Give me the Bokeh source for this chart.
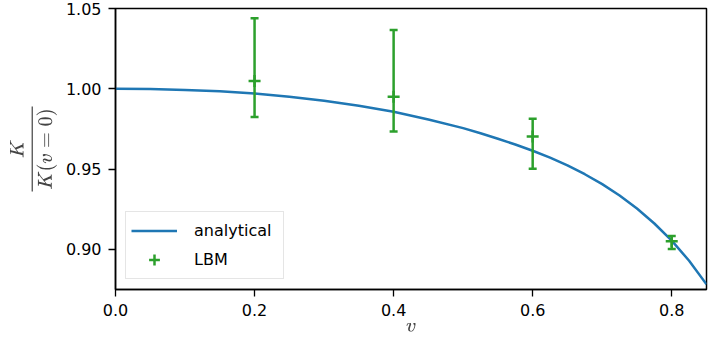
from bokeh.plotting import figure
from bokeh.models import FixedTicker, NumeralTickFormatter, Range1d, Legend, LegendItem, ColumnDataSource
from bokeh.embed import file_html
from bokeh.resources import INLINE

# analytical curve
v_curve = [0.0, 0.05, 0.1, 0.15, 0.2, 0.25, 0.3, 0.35, 0.4, 0.45, 0.5, 0.525, 0.55, 0.575, 0.6,
           0.625, 0.65, 0.675, 0.7, 0.725, 0.75, 0.775, 0.8, 0.825, 0.85]
k_curve = [1.0, 0.9998, 0.9993, 0.9984, 0.9971, 0.9951, 0.9925, 0.9894, 0.9857, 0.9809, 0.9755, 0.9723, 0.9689, 0.9653, 0.9614,
           0.9571, 0.9523, 0.9468, 0.9406, 0.9335, 0.9254, 0.9161, 0.9054, 0.8929, 0.8782]

# LBM points with asymmetric error bars
v_lbm = [0.2, 0.4, 0.6, 0.8]
k_lbm = [1.0048, 0.9950, 0.9703, 0.9050]
k_low = [0.9825, 0.9734, 0.9502, 0.9002]
k_high = [1.0440, 1.0366, 0.9814, 0.9083]

x_ticks = [0.0, 0.2, 0.4, 0.6, 0.8]
y_ticks = [0.90, 0.95, 1.00, 1.05]

BLUE = "#1f77b4"
GREEN = "#2ca02c"
FONT = "DejaVu Sans"

p = figure(width=708, height=347, output_backend="svg", toolbar_location=None,
           x_range=Range1d(0.0, 0.85), y_range=Range1d(0.875, 1.05),
           min_border_left=115, min_border_right=2, min_border_top=8, min_border_bottom=58)
p.grid.visible = False
p.outline_line_color = "black"
p.outline_line_width = 1.5

line_r = p.line(v_curve, k_curve, line_color=BLUE, line_width=2.5)

src = ColumnDataSource(dict(v=v_lbm, k=k_lbm, lo=k_low, hi=k_high))
p.segment(x0="v", y0="lo", x1="v", y1="hi", source=src, line_color=GREEN, line_width=2.5)
p.scatter(x="v", y="lo", source=src, marker="dash", size=8, line_color=GREEN, line_width=2.5)
p.scatter(x="v", y="hi", source=src, marker="dash", size=8, line_color=GREEN, line_width=2.5)
ctr_r = p.scatter(x="v", y="k", source=src, marker="cross", size=12, line_color=GREEN, line_width=2.5)

for ax in (p.xaxis, p.yaxis):
    ax.axis_line_width = 1.5
    ax.major_tick_line_width = 1.3
    ax.major_tick_out = 7
    ax.major_tick_in = 0
    ax.minor_tick_line_color = None
    ax.major_label_text_font = FONT
    ax.major_label_text_font_size = "16px"
    ax.major_label_text_color = "black"

p.xaxis.ticker = FixedTicker(ticks=x_ticks)
p.xaxis.formatter = NumeralTickFormatter(format="0.0")
p.xaxis.major_label_standoff = 7
p.xaxis.axis_label = r"$$v$$"
p.xaxis.axis_label_standoff = 4
p.xaxis.axis_label_text_font_size = "16px"

p.yaxis.ticker = FixedTicker(ticks=y_ticks)
p.yaxis.formatter = NumeralTickFormatter(format="0.00")
p.yaxis.major_label_standoff = 7
p.yaxis.axis_label = r"$$\frac{K}{K(v=0)}$$"
p.yaxis.axis_label_standoff = 6
p.yaxis.axis_label_text_font_size = "17px"

legend = Legend(items=[LegendItem(label="analytical", renderers=[line_r]),
                       LegendItem(label="LBM", renderers=[ctr_r])],
                location=(10, 10))
legend.label_text_font = FONT
legend.label_text_font_size = "16px"
legend.label_text_color = "black"
legend.glyph_width = 46
legend.glyph_height = 27
legend.label_height = 20
legend.label_width = 84
legend.label_standoff = 17
legend.spacing = 2
legend.padding = 5
legend.margin = 0
legend.border_line_color = "#cccccc"
legend.border_line_width = 1.3
legend.background_fill_alpha = 0.8
p.add_layout(legend)

open("out.html", "w").write(file_html(p, INLINE))
